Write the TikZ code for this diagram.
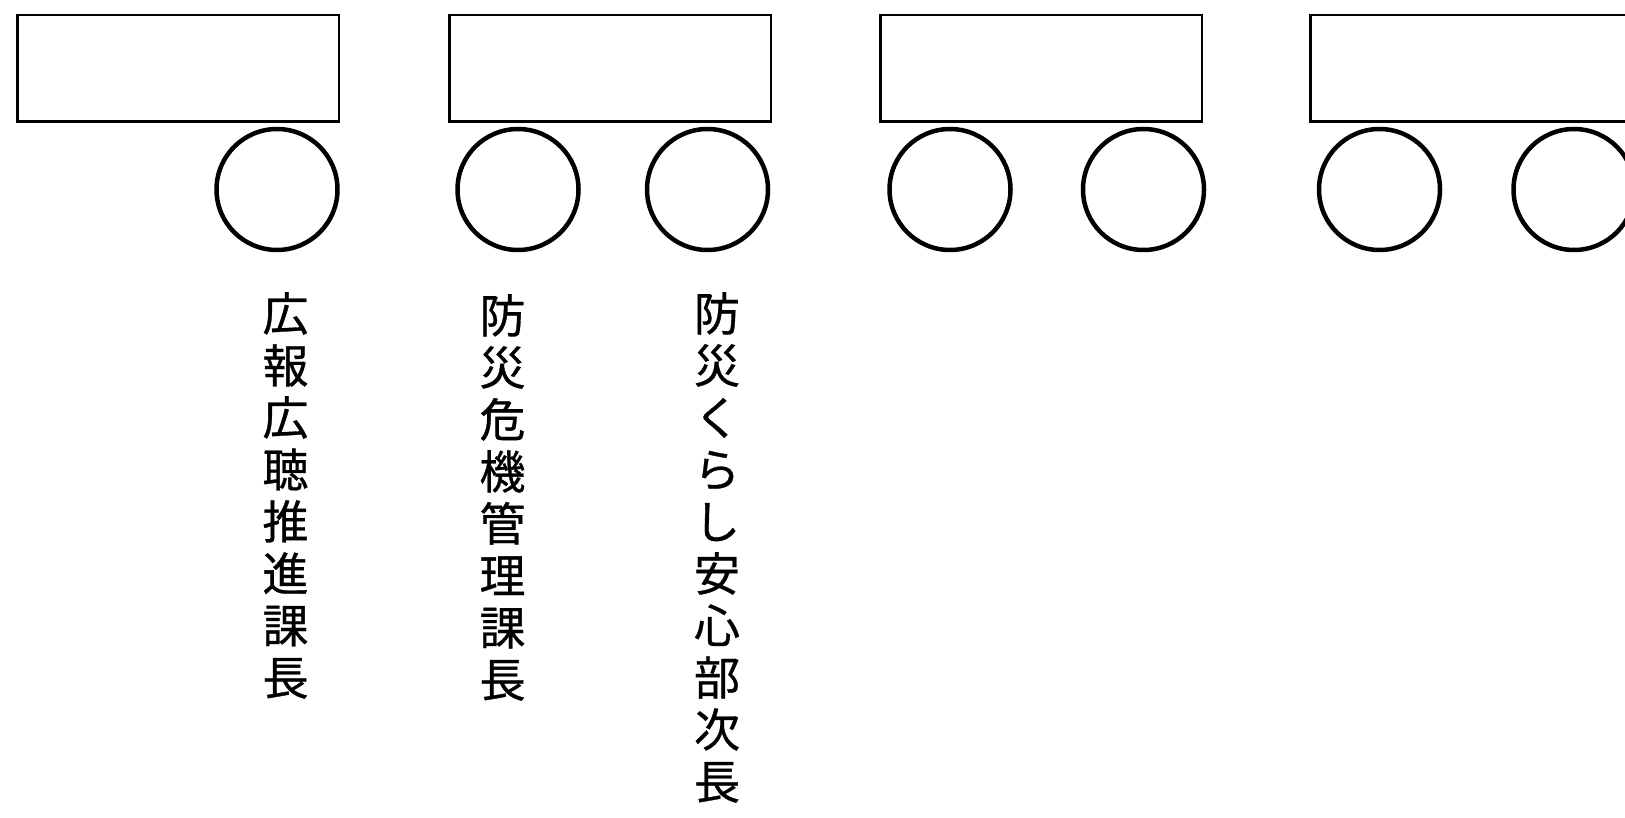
\documentclass[tikz,border=0pt]{standalone}
\usepackage{fontspec}
\newfontfamily\cjk[FakeBold=0.7]{Noto Sans CJK JP}
\tikzset{
    seat/.style={draw, line width=2.5pt, minimum width=321.5pt, minimum height=106.5pt, inner sep=0pt},
    person/.style={draw, circle, line width=4.5pt, minimum size=121pt, inner sep=0pt},
    namelabel/.style={anchor=north, align=center, inner sep=0pt, font=\cjk\fontsize{46}{52}\selectfont}
}
\begin{document}
\begin{tikzpicture}[x=1pt,y=-1pt]
    \useasboundingbox (0,0) rectangle (1625,818);
    % tables
    \node[seat] (table1) at (178,68.5) {};
    \node[seat] (table2) at (610,68.5) {};
    \node[seat] (table3) at (1041,68.5) {};
    \node[seat] (table4) at (1471,68.5) {};
    % seats
    \node[person] (p1) at (277,189.5) {};
    \node[person] (p2) at (518,189.5) {};
    \node[person] (p3) at (707.5,189.5) {};
    \node[person] (p4) at (950,189.5) {};
    \node[person] (p5) at (1143.5,189.5) {};
    \node[person] (p6) at (1379.5,189.5) {};
    \node[person] (p7) at (1574,189.5) {};
    % names
    \node[namelabel] (n1) at (285.5,292) {広\\報\\広\\聴\\推\\進\\課\\長};
    \node[namelabel] (n2) at (502.5,294) {防\\災\\危\\機\\管\\理\\課\\長};
    \node[namelabel] (n3) at (717,292) {防\\災\\く\\ら\\し\\安\\心\\部\\次\\長};
\end{tikzpicture}
\end{document}
